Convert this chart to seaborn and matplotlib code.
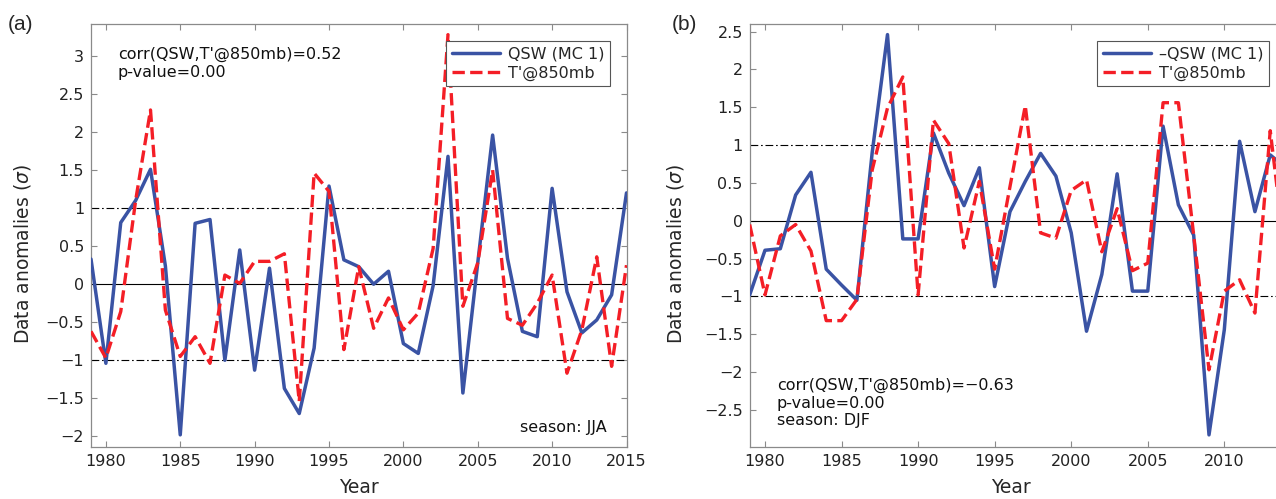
import numpy as np
import pandas as pd
import matplotlib
matplotlib.use("Agg")
import matplotlib.pyplot as plt
import seaborn as sns
from matplotlib.ticker import FuncFormatter

sns.set_theme(style="white")
plt.rcParams['font.family'] = ['DejaVu Sans']

# ---------------- data ----------------
years_a = list(range(1979, 2016))
qsw_a = [0.33, -1.04, 0.81, 1.10, 1.51, 0.24, -1.98, 0.80, 0.85, -1.00,
         0.45, -1.13, 0.21, -1.37, -1.70, -0.84, 1.29, 0.32, 0.23, 0.00,
         0.17, -0.78, -0.91, -0.02, 1.68, -1.43, 0.28, 1.96, 0.34, -0.62,
         -0.69, 1.26, -0.10, -0.64, -0.47, -0.14, 1.20]
t850_a = [-0.62, -0.97, -0.36, 1.10, 2.29, -0.34, -0.95, -0.69, -1.04, 0.12,
          0.01, 0.30, 0.30, 0.40, -1.54, 1.46, 1.22, -0.86, 0.23, -0.58,
          -0.18, -0.60, -0.38, 0.47, 3.28, -0.29, 0.28, 1.50, -0.45, -0.54,
          -0.25, 0.12, -1.17, -0.60, 0.36, -1.08, 0.25]

years_b = list(range(1979, 2015))
nqsw_b = [-0.98, -0.39, -0.37, 0.34, 0.64, -0.64, -0.85, -1.05, 0.90, 2.46,
          -0.24, -0.24, 1.16, 0.63, 0.20, 0.70, -0.87, 0.12, 0.52, 0.89,
          0.59, -0.16, -1.46, -0.71, 0.62, -0.93, -0.93, 1.25, 0.21, -0.19,
          -2.83, -1.44, 1.05, 0.12, 0.87, 0.70]
t850_b = [-0.05, -0.98, -0.20, -0.05, -0.40, -1.32, -1.32, -1.04, 0.67, 1.49,
          1.90, -0.98, 1.33, 1.02, -0.36, 0.52, -0.64, 0.45, 1.52, -0.16,
          -0.23, 0.40, 0.54, -0.41, 0.16, -0.66, -0.56, 1.56, 1.56, -0.19,
          -1.97, -0.93, -0.78, -1.22, 1.19, -0.50]

xticks_a = [1980, 1985, 1990, 1995, 2000, 2005, 2010, 2015]
xticks_b = [1980, 1985, 1990, 1995, 2000, 2005, 2010]
yticks_a = [-2, -1.5, -1, -0.5, 0, 0.5, 1, 1.5, 2, 2.5, 3]
yticks_b = [-2.5, -2, -1.5, -1, -0.5, 0, 0.5, 1, 1.5, 2, 2.5]

labels_a = ["QSW (MC 1)", "T'@850mb"]
labels_b = ["\u2013QSW (MC 1)", "T'@850mb"]
text_a = "corr(QSW,T'@850mb)=0.52\np-value=0.00"
season_a = "season: JJA"
text_b = "corr(QSW,T'@850mb)=\u22120.63\np-value=0.00\nseason: DJF"

BLUE = "#3a53a4"
RED = "#f41e26"
SPINE = "#8a8a8a"

W, H = 1276, 499
fig = plt.figure(figsize=(W / 100, H / 100), dpi=100)


def px_ax(l, t, r, b):
    return fig.add_axes([l / W, 1 - b / H, (r - l) / W, (b - t) / H])


ax_a = px_ax(91, 24, 626.5, 447)
ax_b = px_ax(749.7, 24, 749.7 + 36 * 15.31, 447)

fmt = FuncFormatter(lambda v, p: ("%g" % v).replace("-", "\u2212"))


def style(ax, ylim, xlim, yt, xt):
    for s in ax.spines.values():
        s.set_color(SPINE)
        s.set_linewidth(0.9)
    ax.set_xlim(*xlim)
    ax.set_ylim(*ylim)
    ax.set_yticks(yt)
    ax.set_xticks(xt)
    ax.yaxis.set_major_formatter(fmt)
    ax.tick_params(direction="in", length=4, width=0.8, color=SPINE,
                   top=True, right=True, bottom=True, left=True,
                   labelsize=11.5, labelcolor="#222222", pad=5)
    ax.axhline(0, color="black", lw=0.8, zorder=1)
    ax.axhline(1, color="black", lw=0.8, ls=(0, (7, 2.5, 1.5, 2.5)), zorder=1)
    ax.axhline(-1, color="black", lw=0.8, ls=(0, (7, 2.5, 1.5, 2.5)), zorder=1)
    ax.set_xlabel("Year", fontsize=13.5)
    ax.set_ylabel(r"Data anomalies ($\sigma$)", fontsize=13.5)


# panel a
sns.lineplot(x=years_a, y=qsw_a, ax=ax_a, color=BLUE, linewidth=2.5,
             label=labels_a[0], zorder=3)
sns.lineplot(x=years_a, y=t850_a, ax=ax_a, color=RED, linewidth=2.4,
             linestyle="--", label=labels_a[1], zorder=4)
style(ax_a, (-2.14, 3.42), (1979, 2015), yticks_a, xticks_a)
ax_a.yaxis.set_label_coords(-0.108, 0.455)
ax_a.xaxis.set_label_coords(0.5, -0.073)

# panel b
sns.lineplot(x=years_b, y=nqsw_b, ax=ax_b, color=BLUE, linewidth=2.5,
             label=labels_b[0], zorder=3)
sns.lineplot(x=years_b, y=t850_b, ax=ax_b, color=RED, linewidth=2.4,
             linestyle="--", label=labels_b[1], zorder=4)
style(ax_b, (-2.99, 2.6), (1979, 2015), yticks_b, xticks_b)
ax_b.yaxis.set_label_coords(-(749.7 - 686) / 551, 0.455)
ax_b.xaxis.set_label_coords((1011 - 749.7) / 551, -0.073)

for ax, anchor in ((ax_a, (610, 41)), (ax_b, (1269, 41))):
    h, l = ax.get_legend_handles_labels()
    leg = ax.legend(h, l, loc="upper right",
                    bbox_to_anchor=(anchor[0] / W, 1 - anchor[1] / H),
                    bbox_transform=fig.transFigure, borderaxespad=0,
                    fontsize=11.5, handlelength=3.0, frameon=True, fancybox=False,
                    edgecolor="#555555", framealpha=1, borderpad=0.35,
                    labelspacing=0.25, handletextpad=0.5)
    leg.get_frame().set_linewidth(0.8)

ax_a.text(0.05, 0.946, text_a, transform=ax_a.transAxes, va="top", ha="left",
          fontsize=11.5, linespacing=1.25, color="#111111")
ax_a.text(0.9636, 0.045, season_a, transform=ax_a.transAxes, va="center",
          ha="right", fontsize=11.5, color="#111111")
ax_b.text(0.049, 0.163, text_b, transform=ax_b.transAxes, va="top", ha="left",
          fontsize=11.5, linespacing=1.2, color="#111111")

fig.text(8 / W, 1 - 25 / H, "(a)", fontsize=15, va="center", ha="left",
         family="Liberation Sans")
fig.text(672 / W, 1 - 25 / H, "(b)", fontsize=15, va="center", ha="left",
         family="Liberation Sans")

fig.savefig("out.png", dpi=100)
